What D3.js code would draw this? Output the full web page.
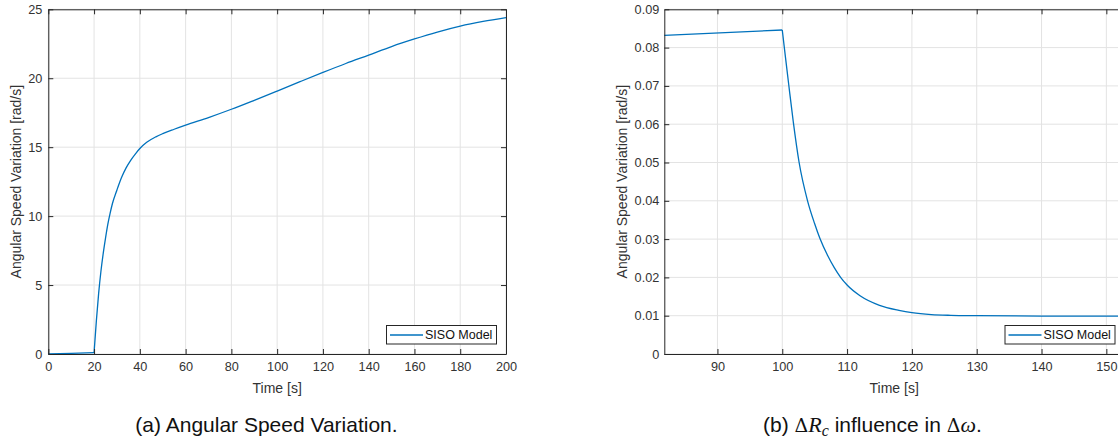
<!DOCTYPE html>
<html>
<head>
<meta charset="utf-8">
<script src="https://cdn.jsdelivr.net/npm/d3@7"></script>
<style>
  body { margin: 0; background: #fff; }
  svg { display: block; font-family: "Liberation Sans", Arial, Helvetica, sans-serif; }
  .tick text { fill: #333; font-size: 12.7px; }
  .domain, .tick line { stroke: #262626; }
</style>
</head>
<body>
<div id="chart"></div>
<script>
// Panel (a): angular speed response
const timeA = [0, 10, 20, 21, 22, 23, 24, 25, 26, 27, 28, 30, 32, 34, 36, 38, 40, 43, 47, 50, 55, 60, 70, 80, 90, 100, 110, 120, 130, 140, 150, 160, 170, 180, 190, 200];
const speedA = [0, 0.05, 0.1, 2.4, 4.4, 6.0, 7.3, 8.4, 9.4, 10.2, 10.9, 11.9, 12.8, 13.5, 14.05, 14.5, 14.9, 15.35, 15.75, 15.98, 16.3, 16.6, 17.15, 17.75, 18.4, 19.07, 19.75, 20.42, 21.07, 21.68, 22.3, 22.85, 23.35, 23.78, 24.12, 24.4];
const cornerA = 2; // index of the step at t = 20 s

// Panel (b): effect of the resistance step
const timeB = [81.8, 100, 100.5, 101, 101.7, 102.6, 103.9, 105, 105.8, 107, 108, 109, 110, 112, 115, 118, 120, 123, 126, 130, 140, 152.8];
const speedB = [0.0832, 0.0846, 0.0774, 0.0703, 0.0606, 0.0500, 0.0400, 0.0340, 0.0302, 0.0257, 0.0226, 0.0200, 0.0180, 0.0152, 0.0127, 0.0114, 0.0108, 0.0103, 0.0101, 0.0100, 0.0099, 0.0099];
const cornerB = 1; // index of the step at t = 100 s

const ticksXA = [0, 20, 40, 60, 80, 100, 120, 140, 160, 180, 200];
const ticksYA = [0, 5, 10, 15, 20, 25];
const ticksXB = [90, 100, 110, 120, 130, 140, 150];
const ticksYB = [0, 0.01, 0.02, 0.03, 0.04, 0.05, 0.06, 0.07, 0.08, 0.09];

const seriesName = "SISO Model";
const xLabel = "Time [s]";
const yLabel = "Angular Speed Variation [rad/s]";

const lineColor = "#0072BD";
const gridColor = "#e3e3e3";

const svg = d3.select("#chart")
    .append("svg")
    .attr("width", 1118)
    .attr("height", 444);

function drawPanel(opts) {
    const x = d3.scaleLinear().domain(opts.xDomain).range([opts.left, opts.right]);
    const y = d3.scaleLinear().domain(opts.yDomain).range([opts.bottom, opts.top]);

    const g = svg.append("g");

    // grid lines
    g.append("g").selectAll("line")
        .data(opts.xTicks)
        .join("line")
        .attr("x1", d => x(d)).attr("x2", d => x(d))
        .attr("y1", opts.top).attr("y2", opts.bottom)
        .attr("stroke", gridColor);
    g.append("g").selectAll("line")
        .data(opts.yTicks)
        .join("line")
        .attr("x1", opts.left).attr("x2", opts.right)
        .attr("y1", d => y(d)).attr("y2", d => y(d))
        .attr("stroke", gridColor);

    // the curve: straight before the step, smooth after it (keeps the corner sharp)
    const pts = opts.xs.map((t, i) => [t, opts.ys[i]]);
    const before = pts.slice(0, opts.corner + 1);
    const after = pts.slice(opts.corner);
    const straight = d3.line().x(d => x(d[0])).y(d => y(d[1]));
    const smooth = d3.line().x(d => x(d[0])).y(d => y(d[1])).curve(d3.curveMonotoneX);
    [[before, straight], [after, smooth]].forEach(([seg, gen]) => {
        g.append("path")
            .datum(seg)
            .attr("fill", "none")
            .attr("stroke", lineColor)
            .attr("stroke-width", 1.3)
            .attr("stroke-linejoin", "round")
            .attr("d", gen);
    });

    // axes, ticks pointing inward
    g.append("g")
        .attr("transform", `translate(0,${opts.bottom})`)
        .call(d3.axisBottom(x).tickValues(opts.xTicks).tickSize(-5).tickSizeOuter(0).tickPadding(8).tickFormat(d3.format("d")));
    g.append("g")
        .attr("transform", `translate(0,${opts.top})`)
        .call(d3.axisTop(x).tickValues(opts.xTicks).tickSize(-5).tickSizeOuter(0).tickFormat(""));
    g.append("g")
        .attr("transform", `translate(${opts.left},0)`)
        .call(d3.axisLeft(y).tickValues(opts.yTicks).tickSize(-5).tickSizeOuter(0).tickPadding(opts.yPad).tickFormat(opts.yFormat));
    g.append("g")
        .attr("transform", `translate(${opts.right},0)`)
        .call(d3.axisRight(y).tickValues(opts.yTicks).tickSize(-5).tickSizeOuter(0).tickFormat(""));

    // axis labels
    g.append("text")
        .attr("x", (opts.left + Math.min(opts.right, 1118)) / 2 + opts.xLabelShift)
        .attr("y", 393)
        .attr("text-anchor", "middle")
        .style("font-size", "14px")
        .style("fill", "#333")
        .text(xLabel);
    g.append("text")
        .attr("transform", "rotate(-90)")
        .attr("x", -(opts.top + opts.bottom) / 2)
        .attr("y", opts.yLabelX)
        .attr("text-anchor", "middle")
        .style("font-size", "14px")
        .style("fill", "#333")
        .text(yLabel);

    // legend box in the lower right corner
    const lg = g.append("g")
        .attr("transform", `translate(${opts.right - 9.5 - 110},${opts.bottom - 28.5})`);
    lg.append("rect")
        .attr("width", 110).attr("height", 18.5)
        .attr("fill", "#fff").attr("stroke", "#262626");
    lg.append("line")
        .attr("x1", 3.5).attr("x2", 36.5)
        .attr("y1", 9.5).attr("y2", 9.5)
        .attr("stroke", lineColor).attr("stroke-width", 1.3);
    lg.append("text")
        .attr("x", 38.5).attr("y", 13.8)
        .style("font-size", "12.5px")
        .style("fill", "#111")
        .text(seriesName);
}

drawPanel({
    xs: timeA, ys: speedA, corner: cornerA,
    xDomain: [0, 200], yDomain: [0, 25],
    xTicks: ticksXA, yTicks: ticksYA,
    left: 48.3, right: 506, top: 9.3, bottom: 354,
    yFormat: d3.format("d"), yPad: 6,
    yLabelX: 21, xLabelShift: 0
});

drawPanel({
    xs: timeB, ys: speedB, corner: cornerB,
    xDomain: [81.8, 152.8], yDomain: [0, 0.09],
    xTicks: ticksXB, yTicks: ticksYB,
    left: 664.3, right: 1124.5, top: 9.3, bottom: 354,
    yFormat: d => d === 0 ? "0" : d3.format(".2f")(d), yPad: 5,
    yLabelX: 627, xLabelShift: 3
});

// sub-figure captions
svg.append("text")
    .attr("x", 266.5).attr("y", 432)
    .attr("text-anchor", "middle")
    .style("font-size", "21px")
    .style("fill", "#111")
    .text("(a)  Angular Speed Variation.");

const capB = svg.append("text")
    .attr("x", 763).attr("y", 432)
    .attr("text-anchor", "start")
    .style("font-size", "21px")
    .style("fill", "#111");
capB.append("tspan").text("(b)  ");
capB.append("tspan").style("font-family", "'DejaVu Serif', serif").style("font-size", "19px").text("Δ");
capB.append("tspan").style("font-family", "'Liberation Serif', serif").style("font-style", "italic").style("font-size", "22px").text("R");
capB.append("tspan").style("font-family", "'Liberation Serif', serif").style("font-style", "italic").style("font-size", "16px").attr("dy", 4).text("c");
capB.append("tspan").attr("dy", -4).text(" influence in ");
capB.append("tspan").style("font-family", "'DejaVu Serif', serif").style("font-size", "19px").text("Δ");
capB.append("tspan").style("font-family", "'Liberation Serif', serif").style("font-style", "italic").style("font-size", "22px").text("ω");
capB.append("tspan").text(".");
</script>
</body>
</html>
